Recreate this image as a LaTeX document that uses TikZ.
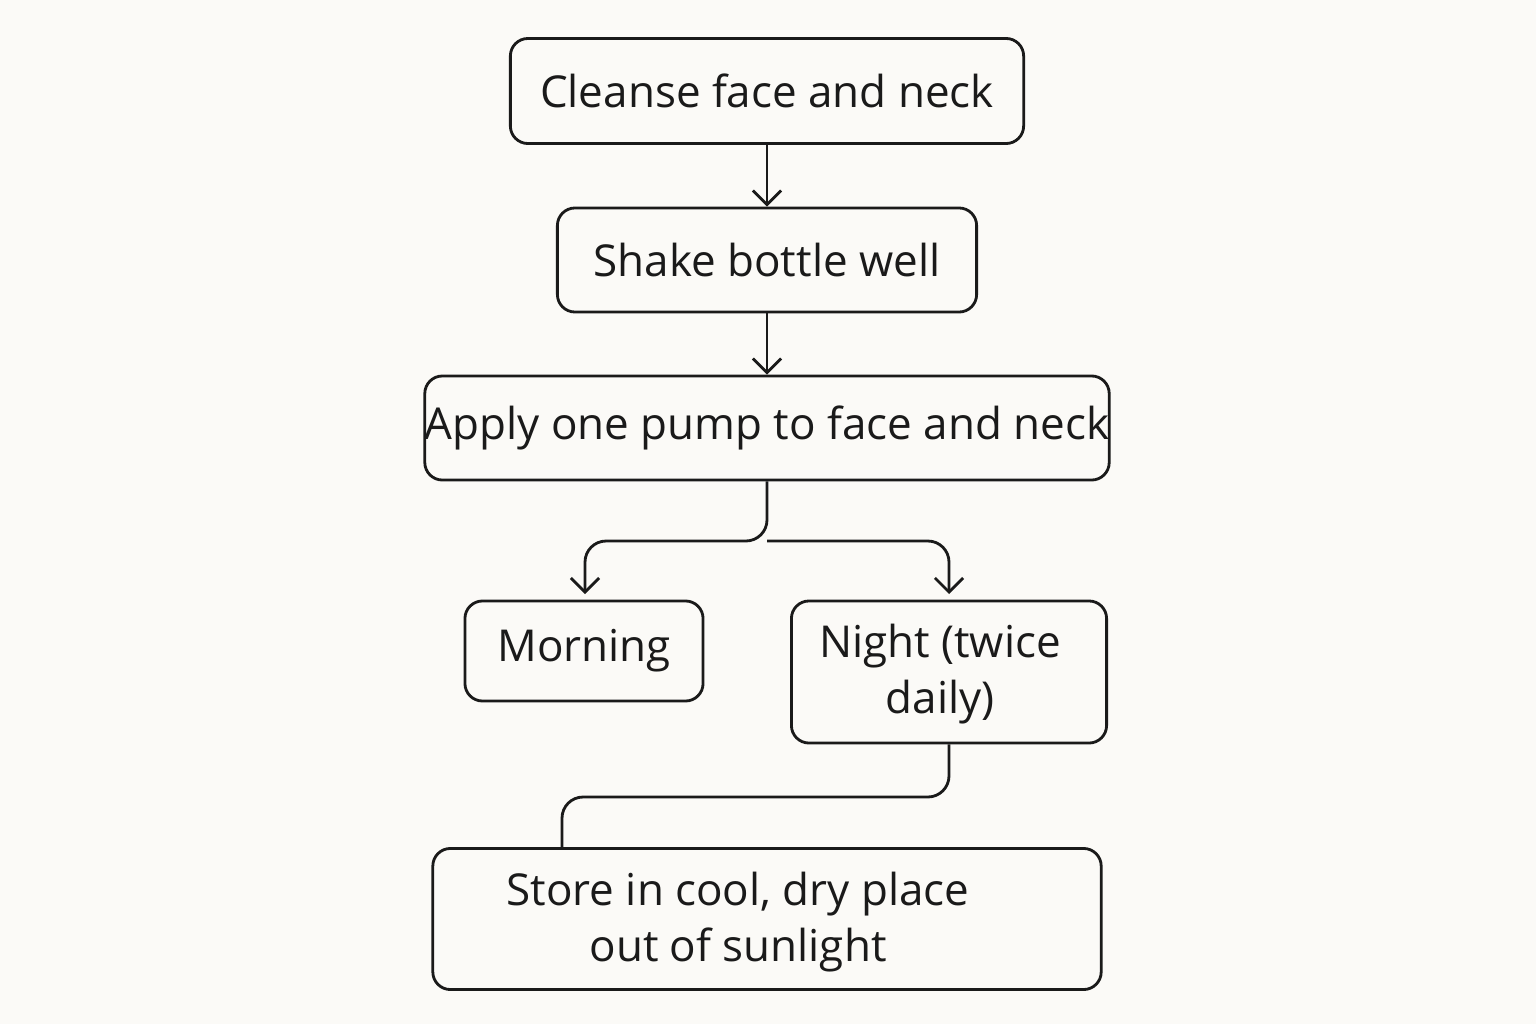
\documentclass[tikz,border=0pt]{standalone}
\usepackage{fontspec}
\setmainfont{Open Sans}
\usetikzlibrary{arrows.meta}
\definecolor{paper}{HTML}{FBFAF7}
\definecolor{ink}{HTML}{1A1A1A}
\begin{document}
\begin{tikzpicture}[x=0.01cm, y=-0.01cm,
    stage/.style={draw=ink, line width=0.8pt, rounded corners=5pt, inner sep=0pt, font=\fontsize{12.5}{16}\selectfont, text=ink, align=center},
    flow/.style={draw=ink, line width=0.8pt, -{Straight Barb[length=4pt,width=8pt]}, rounded corners=6pt}]
    \fill[paper] (0, 0) rectangle (1536, 1024);
    \node[stage, minimum width=5.13cm, minimum height=1.05cm] (cleanse) at (767,91) {Cleanse face and neck};
    \node[stage, minimum width=4.19cm, minimum height=1.04cm] (shake) at (767,260) {Shake bottle well};
    \node[stage, minimum width=6.83cm, minimum height=1.04cm] (apply) at (767,428) {Apply one pump to face and neck};
    \node[stage, minimum width=2.38cm, minimum height=1.00cm] (morning) at (584,651) {Morning};
    \node[stage, minimum width=3.15cm, minimum height=1.42cm] (night) at (949,672) {};
    \node[text=ink, font=\fontsize{12.5}{16}\selectfont, align=center] (nighttext) at (940,674) {Night (twice\\daily)};
    \node[stage, minimum width=6.68cm, minimum height=1.41cm] (store) at (767,919) {};
    \node[text=ink, font=\fontsize{12.5}{16}\selectfont, align=center] (storetext) at (738,922) {Store in cool, dry place\\out of sunlight};

    \coordinate (split) at (767,541);
    \coordinate (mtip) at (585,594);
    \coordinate (ntip) at (949,594);
    \coordinate (bend) at (562,797);
    \draw[flow] (cleanse) -- (shake);
    \draw[flow] (shake) -- (apply);
    \draw[flow] (apply.south) -- (split) -| (mtip);
    \draw[flow] (split) -| (ntip);
    \draw[draw=ink, line width=0.8pt, rounded corners=6pt] (night.south) |- (bend) -- (bend |- store.north);
\end{tikzpicture}
\end{document}
